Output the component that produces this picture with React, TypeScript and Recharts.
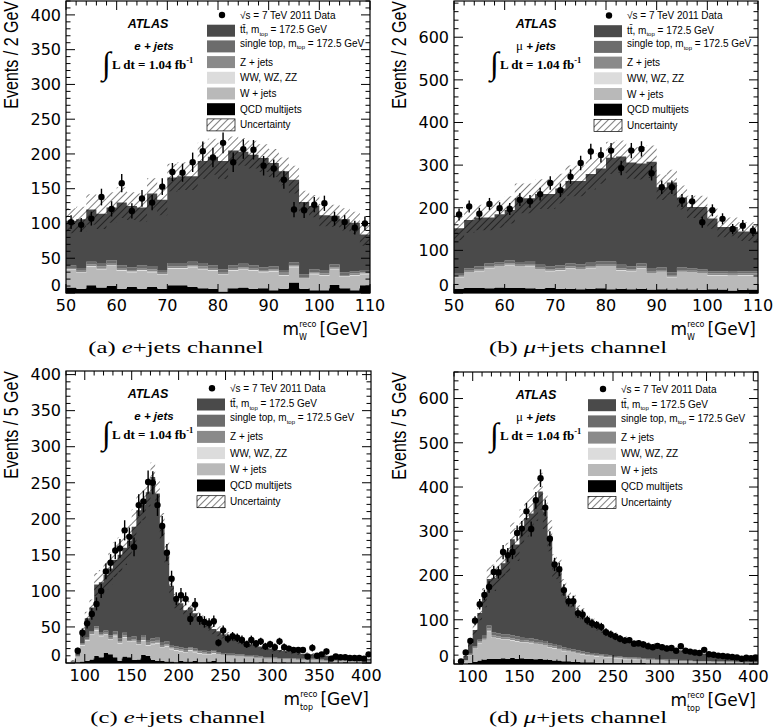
import React from "react";
import { ComposedChart, Area, Scatter, ErrorBar, XAxis, YAxis } from "recharts";

// bin edges
const wEdges = [50, 52, 54, 56, 58, 60, 62, 64, 66, 68, 70, 72, 74, 76, 78, 80, 82, 84, 86, 88, 90, 92, 94, 96, 98, 100, 102, 104, 106, 108, 110];
const tEdges = [80, 85, 90, 95, 100, 105, 110, 115, 120, 125, 130, 135, 140, 145, 150, 155, 160, 165, 170, 175, 180, 185, 190, 195, 200, 205, 210, 215, 220, 225, 230, 235, 240, 245, 250, 255, 260, 265, 270, 275, 280, 285, 290, 295, 300, 305, 310, 315, 320, 325, 330, 335, 340, 345, 350, 355, 360, 365, 370, 375, 380, 385, 390, 395, 400, 405];

// (a) e+jets, m_W
const aQcd = [8, 6, 11, 8, 10, 6, 9, 6, 9, 6, 11, 11, 9, 7, 6, 2, 7, 8, 6, 7, 4, 6, 15, 6, 4, 4, 12, 7, 4, 11];
const aWjets = [25, 23, 27, 26, 29, 26, 21, 26, 21, 20, 24, 24, 28, 27, 26, 24, 25, 26, 26, 23, 27, 19, 22, 14, 23, 21, 22, 16, 21, 16];
const aDiboson = [1, 1, 1, 1, 1, 1, 1, 1, 1, 1, 1, 1, 1, 1, 1, 1, 1, 1, 1, 1, 1, 1, 1, 1, 1, 1, 1, 1, 1, 1];
const aZjets = [2, 2, 2, 3, 2, 2, 2, 2, 3, 2, 2, 2, 2, 3, 2, 2, 2, 2, 2, 2, 2, 3, 2, 2, 2, 2, 2, 2, 2, 2];
const aStop = [4, 4, 4, 5, 5, 5, 4, 5, 5, 4, 5, 5, 5, 5, 5, 5, 5, 5, 5, 4, 4, 4, 4, 4, 4, 4, 4, 4, 3, 3];
const aTtbar = [64, 70, 75, 71, 76, 90, 88, 83, 104, 101, 123, 125, 123, 147, 156, 156, 165, 161, 159, 157, 149, 142, 119, 104, 91, 80, 70, 76, 70, 51];
const aUnc = [18, 18, 22, 22, 22, 22, 20, 20, 22, 22, 20, 20, 20, 26, 26, 26, 20, 20, 20, 20, 20, 20, 20, 16, 16, 16, 16, 16, 16, 16];
const aData = [102, 98, 107, 138, 121, 158, 118, 136, 130, 153, 174, 173, 188, 204, 195, 216, 188, 207, 206, 183, 179, 163, 120, 119, 127, 129, 107, 102, 94, 100];
const aErr = [10, 10, 10, 12, 11, 13, 11, 12, 11, 12, 13, 13, 14, 14, 14, 15, 14, 14, 14, 14, 13, 13, 11, 11, 11, 11, 10, 10, 10, 10];

// (b) mu+jets, m_W
const bQcd = [10, 12, 12, 11, 13, 12, 12, 11, 10, 12, 10, 10, 9, 10, 11, 9, 10, 9, 10, 8, 9, 8, 9, 8, 7, 9, 8, 6, 7, 8];
const bWjets = [27, 35, 39, 47, 48, 53, 49, 52, 44, 39, 43, 47, 45, 48, 50, 52, 43, 42, 47, 37, 40, 29, 40, 39, 38, 32, 33, 34, 34, 33];
const bDiboson = [1, 1, 1, 1, 1, 1, 1, 1, 1, 1, 1, 1, 1, 1, 1, 1, 1, 1, 1, 1, 1, 1, 1, 1, 1, 1, 1, 1, 1, 1];
const bZjets = [4, 4, 4, 4, 4, 4, 4, 4, 4, 4, 4, 4, 4, 4, 4, 4, 4, 4, 4, 4, 4, 4, 4, 4, 4, 4, 4, 4, 4, 4];
const bStop = [5, 6, 6, 6, 6, 6, 7, 7, 7, 7, 7, 7, 8, 8, 8, 8, 8, 7, 7, 7, 6, 6, 6, 6, 6, 5, 5, 5, 5, 5];
const bTtbar = [105, 113, 115, 108, 113, 119, 149, 147, 166, 169, 180, 194, 196, 208, 218, 243, 254, 243, 235, 251, 188, 211, 164, 144, 146, 124, 104, 105, 93, 93];
const bUnc = [28, 30, 30, 30, 32, 32, 35, 35, 35, 35, 35, 36, 36, 36, 36, 38, 38, 38, 38, 38, 30, 30, 28, 26, 26, 24, 24, 22, 22, 22];
const bData = [184, 203, 186, 209, 199, 197, 219, 215, 232, 258, 241, 273, 305, 332, 324, 334, 293, 334, 338, 281, 248, 248, 217, 215, 166, 194, 174, 150, 158, 146];
const bErr = [14, 14, 14, 14, 14, 14, 15, 15, 15, 16, 16, 17, 17, 18, 18, 18, 17, 18, 18, 17, 16, 16, 15, 15, 13, 14, 13, 12, 13, 12];

// (c) e+jets, m_top
const cQcd = [0, 0, 1, 2, 3, 5, 10, 8, 14, 12, 8, 3, 9, 8, 4, 5, 11, 10, 4, 3, 3, 2, 2, 1, 3, 2, 2, 3, 1, 1, 2, 3, 1, 1, 2, 1, 1, 1, 1, 1, 0, 1, 1, 0, 1, 0, 1, 0, 0, 0, 1, 0, 0, 0, 0, 0, 0, 0, 0, 1, 0, 0, 0, 0, 0];
const cWjets = [0, 2, 8, 22, 28, 34, 35, 29, 25, 20, 29, 24, 26, 21, 26, 20, 20, 14, 22, 24, 18, 21, 17, 16, 13, 12, 15, 12, 12, 11, 9, 10, 11, 10, 8, 9, 8, 8, 7, 7, 7, 6, 5, 6, 5, 5, 4, 5, 5, 4, 3, 4, 4, 4, 3, 3, 3, 3, 3, 2, 2, 2, 2, 2, 2];
const cDiboson = [0, 0, 0, 1, 1, 1, 1, 1, 1, 1, 1, 1, 1, 1, 1, 1, 1, 1, 1, 1, 1, 1, 1, 1, 1, 1, 1, 1, 1, 1, 1, 1, 0, 0, 0, 0, 0, 0, 0, 0, 0, 0, 0, 0, 0, 0, 0, 0, 0, 0, 0, 0, 0, 0, 0, 0, 0, 0, 0, 0, 0, 0, 0, 0, 0];
const cZjets = [0, 0, 0, 1, 1, 2, 2, 2, 2, 2, 2, 2, 2, 2, 2, 2, 3, 3, 3, 3, 2, 2, 2, 2, 2, 2, 2, 2, 2, 2, 2, 2, 1, 1, 1, 1, 1, 1, 1, 1, 1, 1, 1, 1, 1, 1, 1, 1, 1, 1, 1, 1, 1, 1, 1, 0, 0, 0, 0, 0, 0, 0, 0, 0, 0];
const cStop = [0, 0, 1, 1, 2, 2, 3, 3, 3, 3, 4, 4, 4, 4, 4, 4, 4, 4, 4, 4, 4, 4, 3, 3, 3, 3, 2, 2, 2, 2, 2, 2, 2, 2, 2, 2, 2, 2, 2, 2, 2, 1, 1, 1, 1, 1, 1, 1, 1, 1, 1, 1, 1, 1, 1, 1, 1, 1, 1, 1, 1, 1, 1, 1, 1];
const cTtbar = [0, 1, 6, 17, 27, 33, 58, 69, 77, 93, 99, 116, 118, 134, 152, 180, 181, 205, 224, 200, 162, 122, 82, 63, 61, 53, 55, 49, 44, 41, 36, 29, 29, 26, 24, 22, 20, 18, 17, 15, 15, 14, 14, 12, 11, 11, 10, 9, 8, 8, 7, 6, 6, 5, 5, 6, 5, 5, 4, 4, 4, 4, 4, 3, 3];
const cUnc = [0, 1, 3, 6, 9, 11, 16, 17, 20, 22, 24, 24, 24, 24, 24, 24, 22, 20, 20, 20, 18, 16, 12, 10, 9, 8, 9, 8, 8, 8, 7, 7, 7, 6, 6, 5, 5, 5, 5, 4, 4, 4, 4, 4, 3, 3, 3, 3, 3, 3, 3, 3, 2, 2, 2, 2, 2, 2, 2, 2, 2, 2, 2, 2, 2];
const cData = [null, null, 17, 42, 55, 68, 82, 100, 127, 139, 156, 159, 184, 175, 161, 219, 224, 251, 250, 219, 190, 153, 117, 89, 94, 89, 61, 81, 61, 57, 55, 58, 28, 45, 34, 37, 35, 32, 26, 32, 27, 30, 23, 26, 22, 30, 22, 20, 18, 18, 18, 9, 21, 10, 12, 16, 6, 9, 8, 8, 7, 7, 7, 6, 12];
const cErr = [0, 0, 4, 6, 7, 8, 9, 10, 11, 12, 12, 13, 14, 13, 13, 15, 15, 16, 16, 15, 14, 12, 11, 9, 10, 9, 8, 9, 8, 8, 7, 8, 5, 7, 6, 6, 6, 6, 5, 6, 5, 5, 5, 5, 5, 5, 5, 4, 4, 4, 4, 3, 5, 3, 3, 4, 2, 3, 3, 3, 3, 3, 3, 2, 3];

// (d) mu+jets, m_top
const dQcd = [0, 0, 1, 3, 5, 8, 10, 12, 12, 12, 13, 12, 14, 12, 13, 12, 12, 11, 12, 10, 9, 8, 8, 6, 6, 5, 5, 4, 4, 4, 3, 3, 3, 3, 2, 2, 2, 2, 2, 2, 2, 1, 1, 1, 1, 1, 1, 1, 1, 1, 1, 1, 1, 1, 1, 1, 1, 0, 0, 0, 0, 0, 0, 0, 0];
const dWjets = [0, 2, 7, 16, 29, 39, 44, 62, 47, 45, 42, 43, 39, 39, 36, 36, 35, 34, 31, 31, 28, 27, 24, 23, 21, 20, 18, 17, 15, 14, 14, 13, 12, 11, 11, 10, 9, 8, 8, 7, 7, 8, 8, 7, 7, 6, 6, 6, 5, 5, 5, 4, 4, 4, 4, 3, 3, 4, 4, 4, 3, 3, 3, 3, 3];
const dDiboson = [0, 0, 0, 1, 1, 1, 1, 1, 1, 1, 1, 1, 1, 1, 1, 1, 1, 1, 1, 1, 1, 1, 1, 1, 1, 1, 1, 1, 1, 1, 1, 1, 1, 1, 1, 1, 1, 1, 1, 1, 1, 0, 0, 0, 0, 0, 0, 0, 0, 0, 0, 0, 0, 0, 0, 0, 0, 0, 0, 0, 0, 0, 0, 0, 0];
const dZjets = [0, 0, 0, 1, 2, 3, 4, 5, 5, 4, 4, 4, 4, 4, 4, 4, 4, 4, 4, 4, 4, 4, 3, 3, 3, 3, 3, 2, 2, 2, 2, 2, 2, 2, 2, 2, 2, 2, 2, 2, 1, 1, 1, 1, 1, 1, 1, 1, 1, 1, 1, 1, 1, 1, 1, 1, 1, 1, 1, 1, 1, 1, 0, 0, 0];
const dStop = [0, 0, 1, 2, 3, 4, 5, 7, 7, 7, 7, 7, 7, 7, 7, 6, 6, 6, 6, 6, 5, 5, 5, 5, 5, 4, 4, 4, 4, 4, 3, 3, 3, 3, 2, 2, 2, 2, 2, 2, 2, 2, 2, 2, 2, 2, 2, 2, 1, 1, 1, 1, 1, 1, 1, 1, 1, 1, 1, 1, 1, 1, 1, 1, 1];
const dTtbar = [0, 2, 9, 22, 37, 60, 86, 105, 123, 145, 161, 173, 217, 207, 249, 271, 282, 309, 336, 293, 243, 175, 169, 132, 110, 107, 87, 84, 74, 68, 63, 58, 51, 48, 45, 41, 39, 36, 33, 31, 33, 32, 30, 29, 28, 27, 25, 23, 23, 21, 20, 19, 18, 17, 16, 15, 14, 13, 12, 11, 10, 10, 9, 9, 8];
const dUnc = [0, 1, 3, 7, 12, 16, 22, 28, 30, 32, 33, 34, 38, 37, 40, 42, 42, 42, 42, 40, 35, 28, 26, 22, 18, 17, 15, 14, 12, 11, 10, 10, 9, 8, 8, 7, 7, 7, 6, 6, 6, 5, 5, 5, 5, 5, 4, 4, 4, 4, 4, 3, 3, 3, 3, 3, 3, 3, 3, 3, 2, 2, 2, 2, 2];
const dData = [null, 6, 26, 52, 98, 135, 156, 174, 208, 207, 253, 246, 253, 296, 306, 345, 305, 370, 420, 353, 283, 225, 214, 167, 142, 142, 115, 112, 99, 92, 88, 84, 72, 67, 62, 57, 53, 54, 46, 47, 44, 40, 38, 41, 38, 35, 36, 30, 40, 30, 28, 26, 25, 32, 22, 21, 19, 18, 17, 16, 15, 12, 14, 13, 14];
const dErr = [0, 2, 5, 7, 10, 12, 12, 13, 14, 14, 16, 16, 16, 17, 17, 19, 17, 19, 20, 19, 17, 15, 15, 13, 12, 12, 11, 11, 10, 10, 9, 9, 8, 8, 8, 8, 7, 7, 7, 7, 7, 6, 6, 6, 6, 6, 6, 5, 6, 5, 5, 5, 5, 6, 5, 5, 4, 4, 4, 4, 4, 3, 4, 4, 4];

const SANS = "'DejaVu Sans', sans-serif";
const ARIAL = "'Liberation Sans', Arial, sans-serif";
const TIMES = "'Liberation Serif', 'Times New Roman', serif";

const COLORS = {
  ttbar: "#4a4a4a",
  stop: "#6c6c6c",
  zjets: "#8a8a8a",
  diboson: "#dcdcdc",
  wjets: "#b9b9b9",
  qcd: "#000000",
};

const STACK = ["qcd", "wjets", "diboson", "zjets", "stop", "ttbar"] as const;

type Comp = { qcd: number[]; wjets: number[]; diboson: number[]; zjets: number[]; stop: number[]; ttbar: number[]; unc: number[] };

// one row per lower bin edge, plus a closing row at the last upper edge (step histogram)
function stepRows(edges: number[], c: Comp) {
  const n = edges.length - 1;
  return edges.map((x, i) => {
    const j = Math.min(i, n - 1);
    const total = c.qcd[j] + c.wjets[j] + c.diboson[j] + c.zjets[j] + c.stop[j] + c.ttbar[j];
    return {
      x,
      qcd: c.qcd[j],
      wjets: c.wjets[j],
      diboson: c.diboson[j],
      zjets: c.zjets[j],
      stop: c.stop[j],
      ttbar: c.ttbar[j],
      band: [Math.max(0, total - c.unc[j]), total + c.unc[j]],
    };
  });
}

function dataPoints(edges: number[], data: (number | null)[], err: number[]) {
  return data
    .map((y, i) => ({ x: (edges[i] + edges[i + 1]) / 2, y, err: err[i] }))
    .filter((p) => p.y !== null);
}

const range = (a: number, b: number, s: number) => {
  const out: number[] = [];
  for (let v = a; v <= b + 1e-9; v += s) out.push(v);
  return out;
};

type Panel = {
  id: string;
  left: number; top: number; w: number; h: number;
  pl: number; pt: number; pw: number; ph: number;
  rows: any[]; points: any[];
  xDomain: [number, number]; yMax: number;
  xTicks: number[]; xMajor: number; yTicks: number[]; yMajor: number;
  lepton: "e" | "mu"; binWidth: number; particle: "W" | "top";
  tag: string; capX: number; capY: number;
  legX: number; legY: number; legDy: number;
};

const panels: Panel[] = [
  {
    id: "a", left: 0, top: 0, w: 385, h: 365, pl: 66, pt: 1, pw: 304, ph: 292,
    rows: stepRows(wEdges, { qcd: aQcd, wjets: aWjets, diboson: aDiboson, zjets: aZjets, stop: aStop, ttbar: aTtbar, unc: aUnc }),
    points: dataPoints(wEdges, aData, aErr),
    xDomain: [50, 110], yMax: 420, xTicks: range(50, 110, 2), xMajor: 10, yTicks: range(0, 420, 10), yMajor: 50,
    lepton: "e", binWidth: 2, particle: "W", tag: "(a)", capX: 176, capY: 353,
    legX: 141, legY: 14, legDy: 15.7,
  },
  {
    id: "b", left: 388, top: 0, w: 387, h: 365, pl: 66, pt: 1, pw: 304, ph: 292,
    rows: stepRows(wEdges, { qcd: bQcd, wjets: bWjets, diboson: bDiboson, zjets: bZjets, stop: bStop, ttbar: bTtbar, unc: bUnc }),
    points: dataPoints(wEdges, bData, bErr),
    xDomain: [50, 110], yMax: 685, xTicks: range(50, 110, 2), xMajor: 10, yTicks: range(0, 680, 20), yMajor: 100,
    lepton: "mu", binWidth: 2, particle: "W", tag: "(b)", capX: 190, capY: 353,
    legX: 140, legY: 14.5, legDy: 15.7,
  },
  {
    id: "c", left: 0, top: 365, w: 385, h: 363, pl: 66, pt: 6, pw: 305, ph: 292,
    rows: stepRows(tEdges, { qcd: cQcd, wjets: cWjets, diboson: cDiboson, zjets: cZjets, stop: cStop, ttbar: cTtbar, unc: cUnc }),
    points: dataPoints(tEdges, cData, cErr),
    xDomain: [80, 405], yMax: 405, xTicks: range(80, 400, 10), xMajor: 50, yTicks: range(0, 400, 10), yMajor: 50,
    lepton: "e", binWidth: 5, particle: "top", tag: "(c)", capX: 178, capY: 358,
    legX: 131, legY: 17.3, legDy: 16.2,
  },
  {
    id: "d", left: 388, top: 365, w: 387, h: 363, pl: 66, pt: 7, pw: 304, ph: 292,
    rows: stepRows(tEdges, { qcd: dQcd, wjets: dWjets, diboson: dDiboson, zjets: dZjets, stop: dStop, ttbar: dTtbar, unc: dUnc }),
    points: dataPoints(tEdges, dData, dErr),
    xDomain: [80, 405], yMax: 660, xTicks: range(80, 400, 10), xMajor: 50, yTicks: range(0, 660, 20), yMajor: 100,
    lepton: "mu", binWidth: 5, particle: "top", tag: "(d)", capX: 190, capY: 358,
    legX: 134, legY: 17, legDy: 16.2,
  },
];

function Hatch({ id }: { id: string }) {
  return (
    <pattern id={id} patternUnits="userSpaceOnUse" width={5} height={5} patternTransform="rotate(45)">
      <line x1={0} y1={0} x2={0} y2={5} stroke="#000" strokeWidth={1} />
    </pattern>
  );
}

const isMajor = (v: number, m: number) => Math.abs(v / m - Math.round(v / m)) < 1e-6;

function Overlay({ p }: { p: Panel }) {
  const { pl, pt, pw, ph } = p;
  const bx = pl + p.legX;
  const rowY = (i: number) => pt + p.legY + p.legDy * i;
  const txt = { fontFamily: ARIAL, fontSize: 10, fill: "#000" };
  const sub = (s: string) => (
    <>
      <tspan dy={2.5} fontSize={6}>{s}</tspan>
      <tspan dy={-2.5}>{" "}</tspan>
    </>
  );
  const boxes = [
    { color: COLORS.ttbar, label: <>t{"t\u0304"}, m{sub("top")}= 172.5 GeV</>, shift: -1 },
    { color: COLORS.stop, label: <>single top, m{sub("top")}= 172.5 GeV</>, shift: -3 },
    { color: COLORS.zjets, label: <>Z + jets</>, shift: 0 },
    { color: COLORS.diboson, label: <>WW, WZ, ZZ</>, shift: 0 },
    { color: COLORS.wjets, label: <>W + jets</>, shift: 0 },
    { color: COLORS.qcd, label: <>QCD multijets</>, shift: 0 },
  ];
  const hatchId = `legh-${p.id}`;
  const xEnd = pl + pw - 2;
  const xBase = pt + ph + 42;
  const supW = 2.188 * 8;
  const subW = p.particle === "W" ? 0.989 * 8 : 1.639 * 8;
  return (
    <svg width={p.w} height={p.h} style={{ position: "absolute", left: 0, top: 0, overflow: "visible", pointerEvents: "none" }}>
      <defs>
        <Hatch id={hatchId} />
      </defs>
      {/* plot frame */}
      <rect x={pl} y={pt} width={pw} height={ph} fill="none" stroke="#000" strokeWidth={1.2} />
      {/* y-axis title */}
      <text transform={`translate(${pl - 48},${pt}) rotate(-90) scale(0.8,1)`} textAnchor="end" fontFamily={ARIAL} fontSize={20} fill="#000">
        Events / {p.binWidth} GeV
      </text>
      {/* x-axis title */}
      <text x={xEnd} y={xBase} textAnchor="end" fontFamily={SANS} fontSize={17} fill="#000">
        m
        <tspan dy={-8} fontSize={8}>reco</tspan>
        <tspan dx={-supW} dy={12.5} fontSize={8}>{p.particle}</tspan>
        <tspan dx={supW - subW + 3} dy={-4.5}>[GeV]</tspan>
      </text>
      {/* ATLAS label block */}
      <text x={pl + 82} y={pt + 26.5} textAnchor="middle" fontFamily={ARIAL} fontWeight="bold" fontStyle="italic" fontSize={12.5} fill="#000">
        ATLAS
      </text>
      {p.lepton === "e" ? (
        <text x={pl + 88} y={pt + 49} textAnchor="middle" fontFamily={ARIAL} fontWeight="bold" fontStyle="italic" fontSize={11.5} fill="#000">
          e + jets
        </text>
      ) : (
        <text x={pl + 82} y={pt + 49} textAnchor="middle" fontFamily={ARIAL} fontWeight="bold" fontStyle="italic" fontSize={11.5} fill="#000">
          <tspan fontFamily={TIMES} fontWeight="normal" fontStyle="normal" fontSize={13}>μ</tspan> + jets
        </text>
      )}
      <text x={pl + 36} y={pt + 73} fontFamily={TIMES} fontSize={32} fill="#000">∫</text>
      <text x={pl + 46} y={pt + 68} fontFamily={TIMES} fontWeight="bold" fontSize={13} fill="#000">
        L dt = 1.04 fb<tspan dy={-6} fontSize={8.5}>-1</tspan>
      </text>
      {/* legend */}
      <circle cx={bx + 15} cy={rowY(0)} r={3.2} fill="#000" />
      <text x={bx + 33} y={rowY(0) + 3.5} {...txt}>√s = 7 TeV 2011 Data</text>
      {boxes.map((b, i) => (
        <g key={i}>
          <rect x={bx} y={rowY(i + 1) - 6} width={28} height={12} fill={b.color} />
          <text x={bx + 33} y={rowY(i + 1) + 3.5 + b.shift} {...txt}>{b.label}</text>
        </g>
      ))}
      <rect x={bx} y={rowY(7) - 6} width={28} height={12} fill={`url(#${hatchId})`} stroke="#000" strokeWidth={0.7} />
      <text x={bx + 33} y={rowY(7) + 3.5} {...txt}>Uncertainty</text>
      {/* caption */}
      <text transform={`translate(${p.capX},${p.capY}) scale(1.45,1)`} textAnchor="middle" fontFamily={TIMES} fontSize={17} fill="#000">
        {p.tag} <tspan fontStyle="italic">{p.lepton === "e" ? "e" : "μ"}</tspan>+jets channel
      </text>
    </svg>
  );
}

function HistPanel({ p }: { p: Panel }) {
  const hatchId = `hatch-${p.id}`;
  const yTick = (t: any) => {
    const v = t.payload.value;
    const major = isMajor(v, p.yMajor);
    const len = major ? 9 : 4.5;
    return (
      <g>
        <line x1={t.x} y1={t.y} x2={t.x + len} y2={t.y} stroke="#000" strokeWidth={1} />
        <line x1={t.x + p.pw - len} y1={t.y} x2={t.x + p.pw} y2={t.y} stroke="#000" strokeWidth={1} />
        {major && (
          <text x={t.x - 5} y={v === 0 ? t.y - 8 : t.y} dy="0.36em" textAnchor="end" fontFamily={SANS} fontSize={16} fill="#000">
            {v}
          </text>
        )}
      </g>
    );
  };
  const xTick = (t: any) => {
    const v = t.payload.value;
    const major = isMajor(v, p.xMajor);
    const len = major ? 9 : 4.5;
    return (
      <g>
        <line x1={t.x} y1={t.y} x2={t.x} y2={t.y - len} stroke="#000" strokeWidth={1} />
        <line x1={t.x} y1={t.y - p.ph} x2={t.x} y2={t.y - p.ph + len} stroke="#000" strokeWidth={1} />
        {major && (
          <text x={t.x} y={t.y + 18} textAnchor="middle" fontFamily={SANS} fontSize={16} fill="#000">
            {v}
          </text>
        )}
      </g>
    );
  };
  return (
    <div style={{ position: "absolute", left: p.left, top: p.top, width: p.w, height: p.h }}>
      <ComposedChart
        width={p.w}
        height={p.h}
        data={p.rows}
        margin={{ top: p.pt, left: p.pl - 1, right: p.w - p.pl - p.pw, bottom: p.h - p.pt - p.ph - 1 }}
      >
        <defs>
          <Hatch id={hatchId} />
        </defs>
        {STACK.map((k) => (
          <Area
            key={k}
            type="stepAfter"
            dataKey={k}
            stackId="mc"
            fill={COLORS[k]}
            fillOpacity={1}
            stroke="none"
            isAnimationActive={false}
          />
        ))}
        <Area type="stepAfter" dataKey="band" fill={`url(#${hatchId})`} fillOpacity={1} stroke="none" isAnimationActive={false} />
        <Scatter
          data={p.points}
          dataKey="y"
          isAnimationActive={false}
          shape={(s: any) => <circle cx={s.cx} cy={s.cy} r={3.2} fill="#000" />}
        >
          <ErrorBar dataKey="err" direction="y" width={0} stroke="#000" strokeWidth={1.4} isAnimationActive={false} />
        </Scatter>
        <XAxis
          type="number"
          dataKey="x"
          domain={p.xDomain}
          ticks={p.xTicks}
          interval={0}
          allowDataOverflow
          height={1}
          tickSize={0}
          tickMargin={0}
          tickLine={false}
          axisLine={false}
          tick={xTick}
        />
        <YAxis
          type="number"
          domain={[0, p.yMax]}
          ticks={p.yTicks}
          interval={0}
          allowDataOverflow
          width={1}
          tickSize={0}
          tickMargin={0}
          tickLine={false}
          axisLine={false}
          tick={yTick}
        />
      </ComposedChart>
      <Overlay p={p} />
    </div>
  );
}

export default function App() {
  return (
    <div style={{ position: "absolute", left: 0, top: 0, width: 775, height: 728, background: "#fff", overflow: "hidden" }}>
      {panels.map((p) => (
        <HistPanel key={p.id} p={p} />
      ))}
    </div>
  );
}
